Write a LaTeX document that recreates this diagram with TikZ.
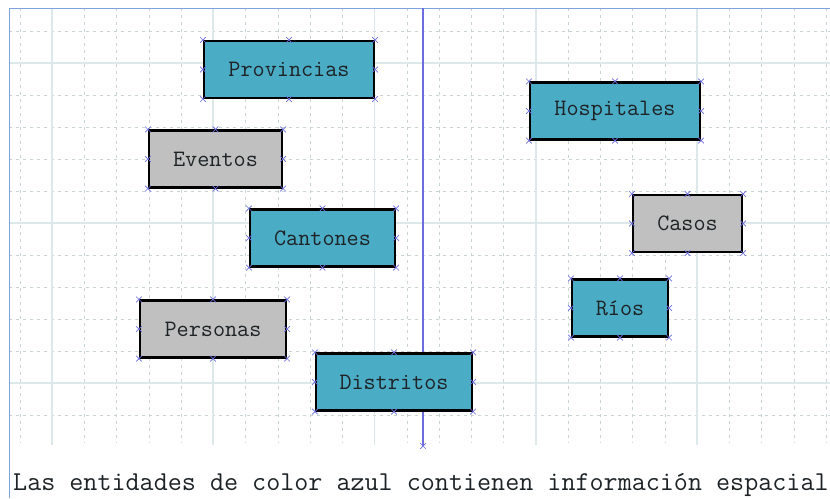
\documentclass[tikz,border=0pt]{standalone}
\usepackage{fontspec}
\usetikzlibrary{shapes.misc}
\definecolor{entazul}{HTML}{4BACC6}
\definecolor{entgris}{HTML}{C0C0C0}
\definecolor{textoent}{HTML}{1E2326}
\definecolor{gridmaj}{HTML}{DCE8E9}
\definecolor{gridmin}{HTML}{C9D3D5}
\definecolor{selazul}{HTML}{6C6CDE}
\definecolor{marco}{HTML}{7FA3DB}

\begin{document}
\begin{tikzpicture}[x=1pt,y=-1pt,
  entidad/.style={draw=black,line width=2.2pt,rectangle,minimum height=57pt,inner sep=0pt,
    font=\ttfamily\fontsize{23.5}{27}\selectfont\addfontfeatures{FakeBold=0.3},text=textoent},
  espacial/.style={entidad,fill=entazul},
  noespacial/.style={entidad,fill=entgris},
  asa/.style={cross out,draw=selazul,line width=0.7pt,minimum size=5pt,inner sep=0pt},
  menor/.style={gridmin,line width=0.5pt,dash pattern=on 3pt off 4pt},
  mayor/.style={gridmaj,line width=1.6pt}]
  \useasboundingbox (0,0) rectangle (830,498);

  % grid
  \foreach \i in {0,...,25}
    \draw[menor] (19.75+32.25*\i,8) -- (19.75+32.25*\i,443);   %vertical minor lines
  \foreach \j in {0,...,12}
    \draw[menor] (9,31+32*\j) -- (830,31+32*\j);               %horizontal minor lines
  \foreach \x in {52,213.25,374.5,535.75,697}
    \draw[mayor] (\x,8) -- (\x,445);
  \foreach \y in {63,223,383}
    \draw[mayor] (9,\y) -- (830,\y);

  \draw[marco,line width=1pt] (9,498) -- (9,8) -- (830,8) ;   %Frame

  % divider
  \coordinate (ejetop) at (423,8);
  \coordinate (ejebot) at (423,446);
  \draw[selazul,line width=1.4pt] (ejetop) -- (ejebot);
  \node[asa] at (ejebot) {};

  % entities
  \node[espacial,minimum width=170pt]   (prov) at (289,69.5)  {Provincias};
  \node[espacial,minimum width=170pt]   (hosp) at (615,111)   {Hospitales};
  \node[noespacial,minimum width=133pt] (even) at (215.5,159) {Eventos};
  \node[noespacial,minimum width=109pt] (caso) at (687.5,223.5) {Casos};
  \node[espacial,minimum width=145pt]   (cant) at (322.5,238) {Cantones};
  \node[espacial,minimum width=96pt]    (rios) at (620,308)   {Ríos};
  \node[noespacial,minimum width=146pt] (pers) at (213,329)   {Personas};
  \node[espacial,minimum width=156pt]   (dist) at (394,382)   {Distritos};

  % selection handles
  \foreach \n in {prov,hosp,even,caso,cant,rios,pers,dist}
    \foreach \a in {north west,north,north east,east,south east,south,south west,west}
      \node[asa] at (\n.\a) {};

  \node[anchor=base west,inner sep=0pt,text=textoent,
    font=\ttfamily\fontsize{27.3}{31}\selectfont\addfontfeatures{FakeBold=0.3}]
    (nota) at (13,490) {Las entidades de color azul contienen información espacial};
\end{tikzpicture}
\end{document}
